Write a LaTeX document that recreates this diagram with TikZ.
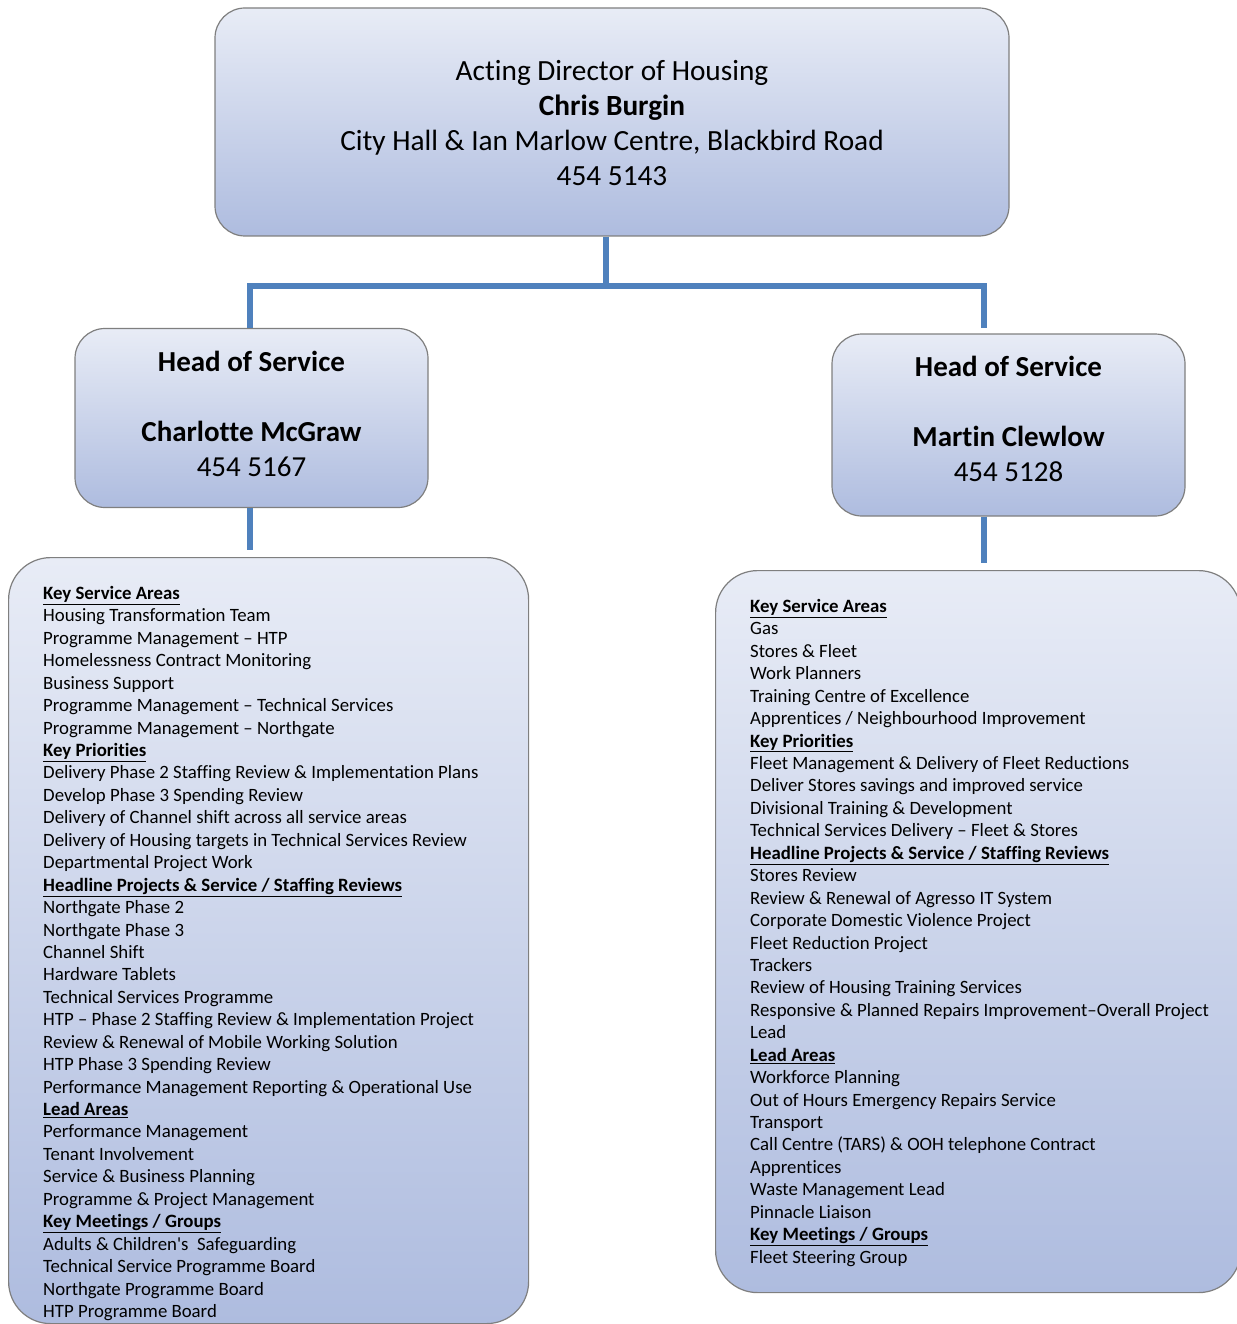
\documentclass[tikz,border=0pt]{standalone}
\usepackage{fontspec}
\setmainfont[Ligatures={NoCommon}]{Carlito}
\usetikzlibrary{positioning}

\definecolor{boxtop}{HTML}{E8ECF6}
\definecolor{boxbot}{HTML}{AEBCDF}
\definecolor{boxline}{HTML}{7F7F7F}
\definecolor{linkblue}{HTML}{4F81BD}

\newcommand{\heading}[1]{\underline{\textbf{#1}}}

\begin{document}
\begin{tikzpicture}[x=1pt,y=1pt,
  orgbox/.style={draw=boxline, line width=1.2pt, rounded corners=30pt,
    top color=boxtop, bottom color=boxbot, inner sep=0pt, align=center},
  listbox/.style={orgbox, rounded corners=42pt, anchor=north west},
  listtext/.style={anchor=north west, inner sep=0pt, align=left,
    font=\fontsize{18.8}{22.44}\selectfont},
  link/.style={draw=linkblue, line width=6pt}]
\useasboundingbox (0,0) rectangle (1236,-1324);
\node[orgbox, minimum width=794, minimum height=228,
  font=\fontsize{29.3}{35}\selectfont] (director) at (612,-122)
  {Acting Director of Housing\\\textbf{Chris Burgin}\\City Hall \& Ian Marlow Centre, Blackbird Road\\454 5143\\[-36pt]};
\node[orgbox, minimum width=353, minimum height=179,
  font=\fontsize{29}{35}\selectfont] (headleft) at (251.5,-418)
  {\textbf{Head of Service}\\\mbox{}\\\textbf{Charlotte McGraw}\\454 5167\\[-26pt]};
\node[orgbox, minimum width=353, minimum height=182,
  font=\fontsize{29}{35}\selectfont] (headright) at (1008.5,-425)
  {\textbf{Head of Service}\\\mbox{}\\\textbf{Martin Clewlow}\\454 5128\\[-22pt]};
\node[listbox, minimum width=520, minimum height=766] (listleft) at (8,-557) {};
\node[listbox, minimum width=525, minimum height=722] (listright) at (715,-570) {};
\node[listtext] (textleft) at ([shift={(35,-29)}]listleft.north west) {%
\heading{Key Service Areas}\\
Housing Transformation Team\\
Programme Management – HTP\\
Homelessness Contract Monitoring\\
Business Support\\
Programme Management – Technical Services\\
Programme Management – Northgate\\
\heading{Key Priorities}\\
Delivery Phase 2 Staffing Review \& Implementation Plans\\
Develop Phase 3 Spending Review\\
Delivery of Channel shift across all service areas\\
Delivery of Housing targets in Technical Services Review\\
Departmental Project Work\\
\heading{Headline Projects \& Service / Staffing Reviews}\\
Northgate Phase 2\\
Northgate Phase 3\\
Channel Shift\\
Hardware Tablets\\
Technical Services Programme\\
HTP – Phase 2 Staffing Review \& Implementation Project\\
Review \& Renewal of Mobile Working Solution\\
HTP Phase 3 Spending Review\\
Performance Management Reporting \& Operational Use\\
\heading{Lead Areas}\\
Performance Management\\
Tenant Involvement\\
Service \& Business Planning\\
Programme \& Project Management\\
\heading{Key Meetings / Groups}\\
Adults \& Children\textquotesingle s\ \ Safeguarding\\
Technical Service Programme Board\\
Northgate Programme Board\\
HTP Programme Board};
\node[listtext] (textright) at ([shift={(35,-29)}]listright.north west) {%
\heading{Key Service Areas}\\
Gas\\
Stores \& Fleet\\
Work Planners\\
Training Centre of Excellence\\
Apprentices / Neighbourhood Improvement\\
\heading{Key Priorities}\\
Fleet Management \& Delivery of Fleet Reductions\\
Deliver Stores savings and improved service\\
Divisional Training \& Development\\
Technical Services Delivery – Fleet \& Stores\\
\heading{Headline Projects \& Service / Staffing Reviews}\\
Stores Review\\
Review \& Renewal of Agresso IT System\\
Corporate Domestic Violence Project\\
Fleet Reduction Project\\
Trackers\\
Review of Housing Training Services\\
Responsive \& Planned Repairs Improvement–Overall Project\\
Lead\\
\heading{Lead Areas}\\
Workforce Planning\\
Out of Hours Emergency Repairs Service\\
Transport\\
Call Centre (TARS) \& OOH telephone Contract\\
Apprentices\\
Waste Management Lead\\
Pinnacle Liaison\\
\heading{Key Meetings / Groups}\\
Fleet Steering Group};
\coordinate (split) at (606,-286);
\draw[link] (director.south -| split) -- (split);
\draw[link] (split) -| (headleft.north -| 250,0);
\draw[link] (split) -| ([yshift=5]headright.north -| 984,0);
\draw[link] (headleft.south -| 250,0) -- ([yshift=7]listleft.north -| 250,0);
\draw[link] (headright.south -| 984,0) -- ([yshift=7]listright.north -| 984,0);
\end{tikzpicture}
\end{document}
